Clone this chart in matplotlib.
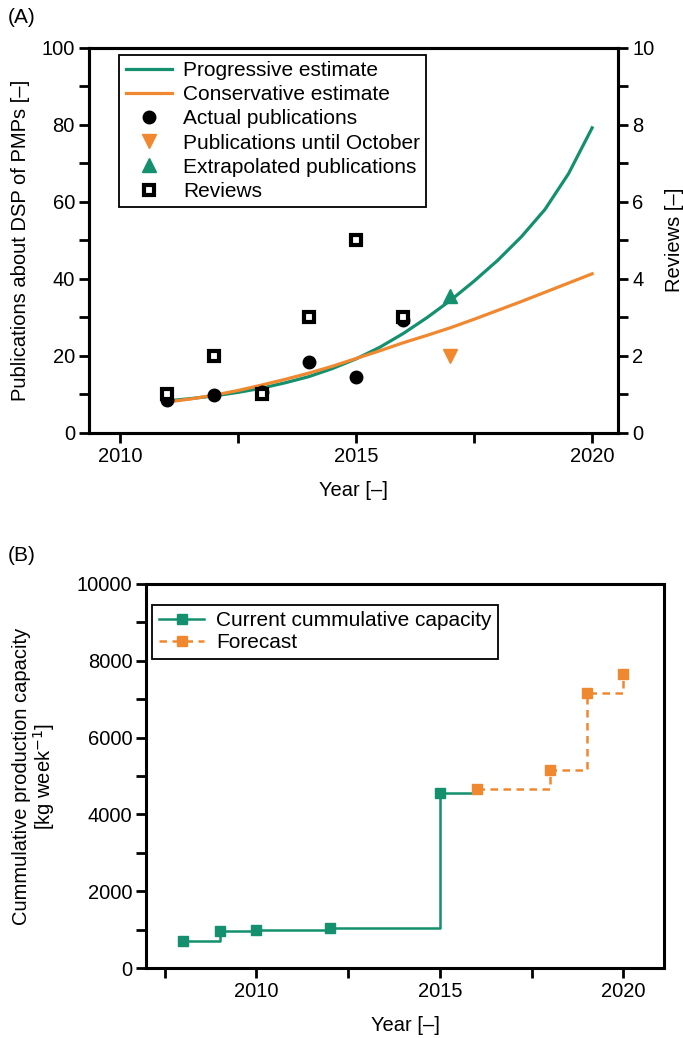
import matplotlib.pyplot as plt
import numpy as np

plt.rcParams['font.family'] = ['Liberation Sans', 'DejaVu Sans']
plt.rcParams['font.size'] = 14.5

green = '#14906e'
orange = '#f08830'

# panel A data
years_pub = [2011, 2012, 2013, 2014, 2015, 2016]
actual_pub = [8.4, 9.7, 10.5, 18.4, 14.5, 29.2]
reviews = [1, 2, 1, 3, 5, 3]
oct_year, oct_pub = [2017], [20]
extra_year, extra_pub = [2017], [35.5]

# curves every half year
curve_years = [2011, 2011.5, 2012, 2012.5, 2013, 2013.5, 2014, 2014.5, 2015, 2015.5,
               2016, 2016.5, 2017, 2017.5, 2018, 2018.5, 2019, 2019.5, 2020]
progressive = [8.3, 8.9, 9.6, 10.5, 11.6, 13.0, 14.6, 16.7, 19.2, 22.2,
               25.8, 29.9, 34.4, 39.4, 44.8, 50.9, 58.0, 67.3, 79.2]
conservative = [8.0, 8.8, 9.8, 11.0, 12.4, 13.9, 15.5, 17.3, 19.3, 21.3,
                23.4, 25.3, 27.3, 29.5, 31.8, 34.1, 36.5, 38.9, 41.3]

# panel B data
cur_years = [2008, 2009, 2010, 2012, 2015]
cur_cap = [715, 975, 1000, 1045, 4560]
fc_years = [2016, 2018, 2019, 2020]
fc_cap = [4655, 5150, 7150, 7660]

fig = plt.figure(figsize=(6.83, 10.38), dpi=100)

# ---------- (A) ----------
ax1 = fig.add_axes([0.130, 0.583, 0.775, 0.371])
ax2 = ax1.twinx()

l1, = ax1.plot(curve_years, progressive, color=green, lw=2.3, label='Progressive estimate', zorder=3)
l2, = ax1.plot(curve_years, conservative, color=orange, lw=2.3, label='Conservative estimate', zorder=3)
m1, = ax1.plot(years_pub, actual_pub, 'o', color='black', ms=9, label='Actual publications', zorder=4)
m2, = ax1.plot(oct_year, oct_pub, 'v', color=orange, ms=10, label='Publications until October', zorder=4)
m3, = ax1.plot(extra_year, extra_pub, '^', color=green, ms=10, label='Extrapolated publications', zorder=4)
m4, = ax2.plot(years_pub, reviews, 's', mfc='white', mec='black', mew=3, ms=7, label='Reviews', zorder=5)

ax1.set_xlim(2009.34, 2020.55)
ax1.set_ylim(0, 100)
ax2.set_ylim(0, 10)
ax1.set_xticks([2010, 2012.5, 2015, 2017.5, 2020])
ax1.set_xticklabels(['2010', '', '2015', '', '2020'])
ax1.set_yticks(np.arange(0, 101, 20))
ax1.set_yticks(np.arange(10, 100, 20), minor=True)
ax2.set_yticks(np.arange(0, 11, 2))
ax2.set_yticks(np.arange(1, 10, 2), minor=True)
for ax in (ax1, ax2):
    ax.tick_params(which='both', direction='out', length=7, width=2, labelsize=14.5, pad=3)
    for s in ax.spines.values():
        s.set_linewidth(2.2)
ax1.set_xlabel('Year [–]', fontsize=14.5, labelpad=11)
ax1.set_ylabel('Publications about DSP of PMPs [–]', fontsize=14.5, labelpad=8)
ax2.set_ylabel('Reviews [–]', fontsize=14.5, labelpad=8)

leg = ax2.legend(handles=[l1, l2, m1, m2, m3, m4], loc='upper left', bbox_to_anchor=(0.058, 0.982),
                 borderaxespad=0, fancybox=False, edgecolor='black', framealpha=1,
                 fontsize=15, labelspacing=0.25, handlelength=2.2, handletextpad=0.55,
                 borderpad=0.3)
leg.get_frame().set_linewidth(1.3)

fig.text(0.012, 0.983, '(A)', fontsize=15, va='center')

# ---------- (B) ----------
ax3 = fig.add_axes([0.214, 0.0674, 0.758, 0.370])
ax3.plot(cur_years + [fc_years[0]], cur_cap + [cur_cap[-1]], color=green, lw=1.8,
         drawstyle='steps-post')
ax3.plot(cur_years, cur_cap, 's', color=green, ms=7.5)
ax3.plot(fc_years, fc_cap, color=orange, lw=1.8, ls=(0, (3, 2.2)), drawstyle='steps-post')
ax3.plot(fc_years, fc_cap, 's', color=orange, ms=7.5)
hb1, = ax3.plot([], [], '-s', color=green, lw=1.8, ms=7.5, label='Current cummulative capacity')
hb2, = ax3.plot([], [], 's', color=orange, ls=(0, (3, 2.2)), lw=1.8, ms=7.5, label='Forecast')

ax3.set_xlim(2007.0, 2021.1)
ax3.set_ylim(0, 10000)
ax3.set_xticks([2007.5, 2010, 2012.5, 2015, 2017.5, 2020])
ax3.set_xticklabels(['', '2010', '', '2015', '', '2020'])
ax3.set_yticks(np.arange(0, 10001, 2000))
ax3.set_yticks(np.arange(1000, 10000, 2000), minor=True)
ax3.tick_params(which='both', direction='out', length=7, width=2, labelsize=14.5, pad=3)
for s in ax3.spines.values():
    s.set_linewidth(2.2)
ax3.set_xlabel('Year [–]', fontsize=14.5, labelpad=11)
ax3.set_ylabel('Cummulative production capacity\n[kg week$^{-1}$]', fontsize=14.5, labelpad=14,
               linespacing=1.0)

leg2 = ax3.legend(handles=[hb1, hb2], loc='upper left', bbox_to_anchor=(0.012, 0.945),
                  borderaxespad=0, fancybox=False, edgecolor='black', framealpha=1,
                  fontsize=15, labelspacing=0.15, handlelength=2.2, handletextpad=0.55,
                  borderpad=0.3)
leg2.get_frame().set_linewidth(1.3)

fig.text(0.012, 0.465, '(B)', fontsize=15, va='center')

fig.savefig('out.png', dpi=100)
